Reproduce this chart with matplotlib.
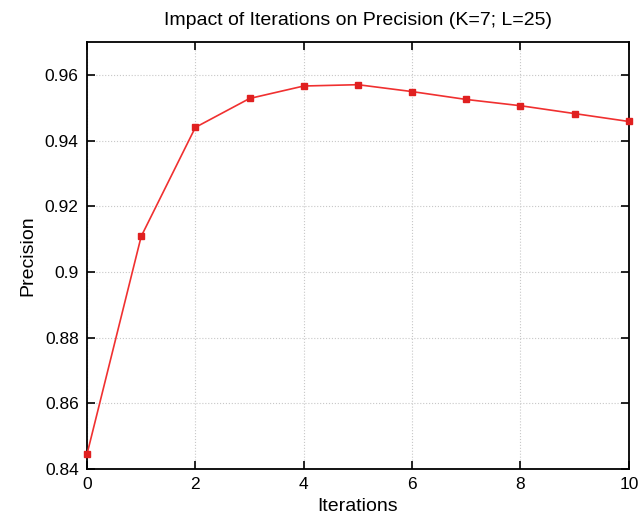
import matplotlib.pyplot as plt
import numpy as np

# values
iterations = [0, 1, 2, 3, 4, 5, 6, 7, 8, 9, 10]
precision = [0.8445, 0.9108, 0.9440, 0.9528, 0.9566, 0.9570,
             0.9549, 0.9525, 0.9506, 0.9482, 0.9458]

plt.rcParams['font.family'] = ['Liberation Sans', 'DejaVu Sans']

fig = plt.figure(figsize=(6.43, 5.23), dpi=100)
ax = fig.add_axes([0.1353, 0.1033, 0.8427, 0.8164])

ax.plot(iterations, precision, color='#f03030', linewidth=1.2,
        marker='s', markersize=5, markerfacecolor='#e02020',
        markeredgecolor='#e02020', clip_on=False, zorder=3)

ax.set_xlim(0, 10)
ax.set_ylim(0.84, 0.97)
ax.set_xticks(np.arange(0, 11, 2))
ax.set_yticks([0.84, 0.86, 0.88, 0.90, 0.92, 0.94, 0.96])
ax.set_yticklabels(['0.84', '0.86', '0.88', '0.9', '0.92', '0.94', '0.96'])

ax.grid(True, color='#c8c8c8', linestyle=':', linewidth=0.8)
ax.tick_params(direction='in', top=True, right=True, length=6,
               width=1.2, labelsize=12.5, pad=6)
for s in ax.spines.values():
    s.set_linewidth(1.3)

ax.set_title('Impact of Iterations on Precision (K=7; L=25)', fontsize=14, pad=12)
ax.set_xlabel('Iterations', fontsize=14)
ax.set_ylabel('Precision', fontsize=14, labelpad=6)

plt.savefig('out.png', dpi=100)
